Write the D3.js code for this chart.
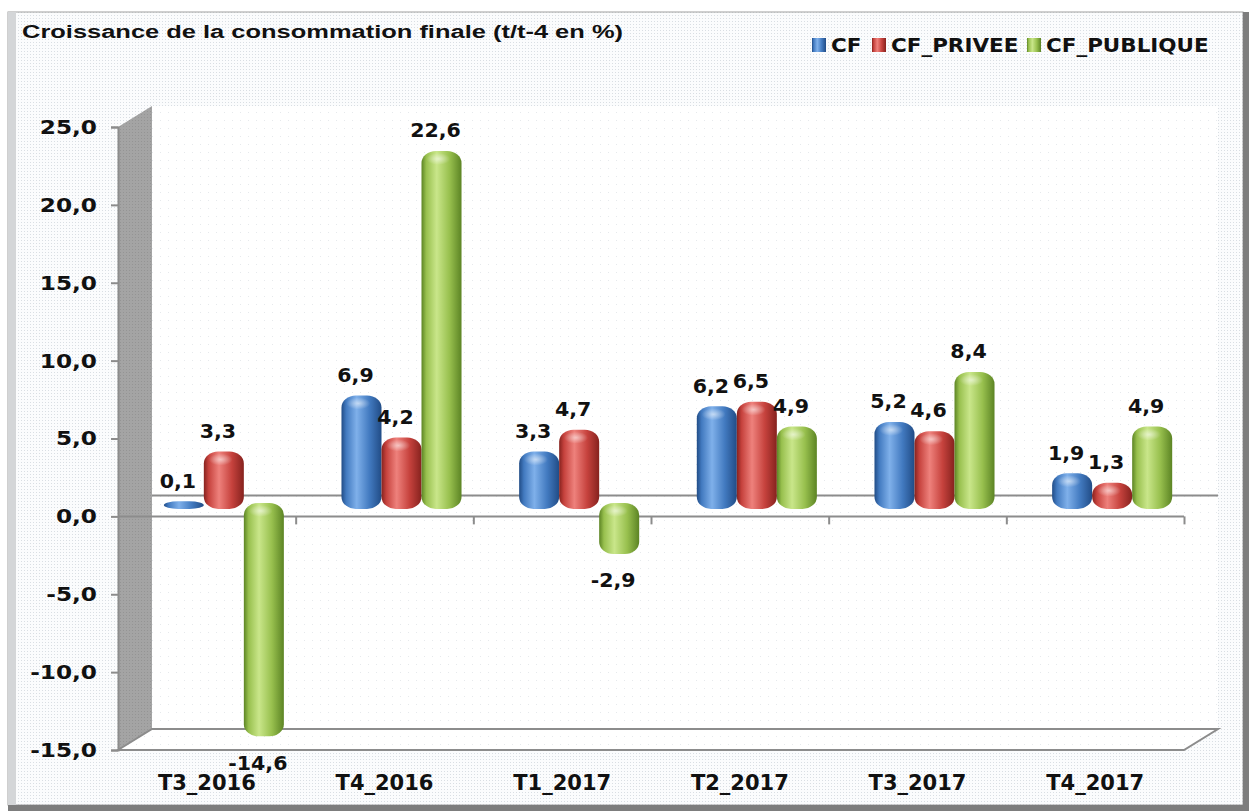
<!DOCTYPE html>
<html>
<head>
<meta charset="utf-8">
<script src="https://cdn.jsdelivr.net/npm/d3@7"></script>
<style>
  body { margin: 0; background: #fff; }
  svg text { font-family: "DejaVu Sans", Verdana, sans-serif; font-weight: bold; fill: #111; }
</style>
</head>
<body>
<svg id="chart" width="1249" height="811"></svg>
<script>
// données
var categories = ['T3_2016', 'T4_2016', 'T1_2017', 'T2_2017', 'T3_2017', 'T4_2017'];
var series = ['CF', 'CF_PRIVEE', 'CF_PUBLIQUE'];
var cf = [0.1, 6.9, 3.3, 6.2, 5.2, 1.9];
var cfPrivee = [3.3, 4.2, 4.7, 6.5, 4.6, 1.3];
var cfPublique = [-14.6, 22.6, -2.9, 4.9, 8.4, 4.9];
var yTicks = [-15, -10, -5, 0, 5, 10, 15, 20, 25];

var values = [cf, cfPrivee, cfPublique];
var colors = {
	CF: {base: '#427ac0', light: '#7fb0ea', dark: '#214c86'},
	CF_PRIVEE: {base: '#c6423d', light: '#ee817c', dark: '#86221e'},
	CF_PUBLIQUE: {base: '#98c04e', light: '#c9e68a', dark: '#5c8424'}
};

var svg = d3.select('#chart');
var W = 1249, H = 811;

// profondeur 3D (décalage du mur du fond)
var depthX = 34, depthY = -21;
var pL = 118, pR = 1184, pT = 127, pB = 750;

var y = d3.scaleLinear().domain([-15, 25]).range([pB, pT]);
var x = d3.scaleBand().domain(categories).range([pL, pR]).padding(0);
var xs = d3.scaleBand().domain(series).range([0, x.bandwidth()]).paddingInner(0).paddingOuter(0.72);
var xIdx = d3.scaleLinear().domain([0, categories.length]).range([pL, pR]);

var fmt = function(d){ return d.toFixed(1).replace('.', ','); };

var defs = svg.append('defs');

// fond pointillé
var p1 = defs.append('pattern').attr('id', 'dots').attr('width', 3).attr('height', 3)
	.attr('patternUnits', 'userSpaceOnUse');
p1.append('rect').attr('width', 3).attr('height', 3).attr('fill', '#fbfcfd');
p1.append('rect').attr('width', 1).attr('height', 1).attr('fill', '#d9dee3');
var p2 = defs.append('pattern').attr('id', 'dots2').attr('width', 8).attr('height', 8)
	.attr('patternUnits', 'userSpaceOnUse');
p2.append('rect').attr('width', 8).attr('height', 8).attr('fill', '#ffffff');
p2.append('rect').attr('width', 1).attr('height', 1).attr('fill', '#e6e9ec');
var p3 = defs.append('pattern').attr('id', 'dots3').attr('width', 3).attr('height', 3)
	.attr('patternUnits', 'userSpaceOnUse');
p3.append('rect').attr('width', 3).attr('height', 3).attr('fill', '#a4a4a4');
p3.append('rect').attr('width', 1).attr('height', 1).attr('fill', '#949494');

// dégradés des cylindres
series.forEach(function(s){
	var c = colors[s];
	var g = defs.append('linearGradient').attr('id', 'grad_' + s)
		.attr('x1', '0%').attr('x2', '100%').attr('y1', '0%').attr('y2', '0%');
	g.append('stop').attr('offset', '0%').attr('stop-color', c.dark);
	g.append('stop').attr('offset', '12%').attr('stop-color', c.base);
	g.append('stop').attr('offset', '38%').attr('stop-color', c.light);
	g.append('stop').attr('offset', '70%').attr('stop-color', c.base);
	g.append('stop').attr('offset', '100%').attr('stop-color', c.dark);
});
var hl = defs.append('radialGradient').attr('id', 'hilite');
hl.append('stop').attr('offset', '0%').attr('stop-color', '#fff').attr('stop-opacity', 0.55);
hl.append('stop').attr('offset', '100%').attr('stop-color', '#fff').attr('stop-opacity', 0);

// cadre
svg.append('rect').attr('x', 0).attr('y', 0).attr('width', W).attr('height', H).attr('fill', '#fff');
svg.append('rect').attr('x', 8).attr('y', 12).attr('width', 1235).attr('height', 793)
	.attr('fill', 'url(#dots)').attr('stroke', '#a0a0a0').attr('stroke-width', 1);
svg.append('rect').attr('x', 8).attr('y', 12).attr('width', 8).attr('height', 793).attr('fill', '#d4d6d8');
svg.append('rect').attr('x', 1243).attr('y', 12).attr('width', 6).attr('height', 799).attr('fill', '#7d7d7d');
svg.append('rect').attr('x', 8).attr('y', 805).attr('width', 1241).attr('height', 6).attr('fill', '#7d7d7d');

// mur du fond
svg.append('rect').attr('x', pL + depthX).attr('y', pT + depthY)
	.attr('width', pR - pL).attr('height', pB - pT).attr('fill', 'url(#dots2)');

// mur latéral
svg.append('polygon')
	.attr('points', [[pL, pT], [pL + depthX, pT + depthY], [pL + depthX, pB + depthY], [pL, pB]].join(' '))
	.attr('fill', 'url(#dots3)');

// sol
svg.append('polygon')
	.attr('points', [[pL, pB], [pL + depthX, pB + depthY], [pR + depthX, pB + depthY], [pR, pB]].join(' '))
	.attr('fill', 'url(#dots2)').attr('stroke', '#8c8c8c').attr('stroke-width', 2);

// plan zéro au fond
svg.append('line').attr('x1', pL + depthX).attr('x2', pR + depthX)
	.attr('y1', y(0) + depthY).attr('y2', y(0) + depthY)
	.attr('stroke', '#8c8c8c').attr('stroke-width', 2);

// axe des ordonnées
var yAxis = d3.axisLeft(y).tickValues(yTicks).tickSize(7).tickPadding(14).tickFormat(fmt);
var gy = svg.append('g').attr('transform', 'translate(' + pL + ',0)').call(yAxis);
gy.select('.domain').attr('stroke', '#8c8c8c').attr('stroke-width', 2);
gy.selectAll('.tick line').attr('stroke', '#8c8c8c').attr('stroke-width', 2);
gy.selectAll('.tick text').style('font-size', '20px').attr('fill', '#111')
	.attr('x', 0).attr('transform', 'translate(-21,0) scale(1.16,1)');

// axe zéro (catégories)
var zeroAxis = d3.axisBottom(xIdx).tickValues(d3.range(1, categories.length + 1)).tickSize(8).tickFormat('');
var gz = svg.append('g').attr('transform', 'translate(0,' + y(0) + ')').call(zeroAxis);
gz.select('.domain').attr('stroke', '#8c8c8c').attr('stroke-width', 2).attr('d', 'M' + pL + ',0H' + pR);
gz.selectAll('.tick line').attr('stroke', '#8c8c8c').attr('stroke-width', 2);

// étiquettes des catégories
var catAxis = d3.axisBottom(x).tickSize(0).tickPadding(0);
var gc = svg.append('g').attr('transform', 'translate(0,' + (pB + 20) + ')').call(catAxis);
gc.select('.domain').remove();
gc.selectAll('.tick text').style('font-size', '21px').attr('fill', '#111').attr('dy', '0.95em');

// cylindres
var midX = depthX / 2, midY = depthY / 2;
var cap = 3;
var bars = [];
series.forEach(function(s, si){
	categories.forEach(function(c, ci){
		bars.push({serie: s, cat: c, value: values[si][ci]});
	});
});

var gb = svg.append('g').attr('id', 'bars');
bars.forEach(function(d){
	var bx = x(d.cat) + xs(d.serie) + midX;
	var bw = xs.bandwidth();
	var y0 = y(0) + midY, y1 = y(d.value) + midY;
	var t = Math.min(y0, y1) - cap, b = Math.max(y0, y1) + cap;
	var h = b - t;
	gb.append('rect')
		.attr('x', bx).attr('y', t).attr('width', bw).attr('height', h)
		.attr('rx', bw * 0.36).attr('ry', Math.min(12, h / 2))
		.attr('fill', 'url(#grad_' + d.serie + ')');
	if (h > 14) {
		gb.append('ellipse')
			.attr('cx', bx + bw * 0.42).attr('cy', t + 8)
			.attr('rx', bw * 0.3).attr('ry', 6)
			.attr('fill', 'url(#hilite)');
	}
	d.cx = bx + bw / 2; d.top = t; d.bottom = b;
});

// étiquettes des valeurs
svg.append('g').selectAll('text').data(bars).join('text')
	.attr('text-anchor', 'middle').attr('dominant-baseline', 'central')
	.attr('transform', function(d){
		var lx = d.cx - 6;
		var ly = d.value >= 0 ? d.top - 20 : d.bottom + 27;
		return 'translate(' + lx + ',' + ly + ') scale(1.08,1)';
	})
	.style('font-size', '19px')
	.text(function(d){ return fmt(d.value); });

// titre
svg.append('text').attr('transform', 'translate(22,38) scale(1.34,1)')
	.style('font-family', '"Liberation Sans", Arial, sans-serif').style('font-size', '19px')
	.text('Croissance de la consommation finale (t/t-4 en %)');

// légende
var legX = [812, 872, 1027];
var lg = svg.append('g').attr('id', 'legend');
series.forEach(function(s, i){
	lg.append('rect').attr('x', legX[i]).attr('y', 38).attr('width', 14).attr('height', 14)
		.attr('fill', 'url(#grad_' + s + ')');
	lg.append('text').attr('transform', 'translate(' + (legX[i] + 19) + ',52) scale(1.13,1)')
		.style('font-size', '19px').text(s);
});
</script>
</body>
</html>
